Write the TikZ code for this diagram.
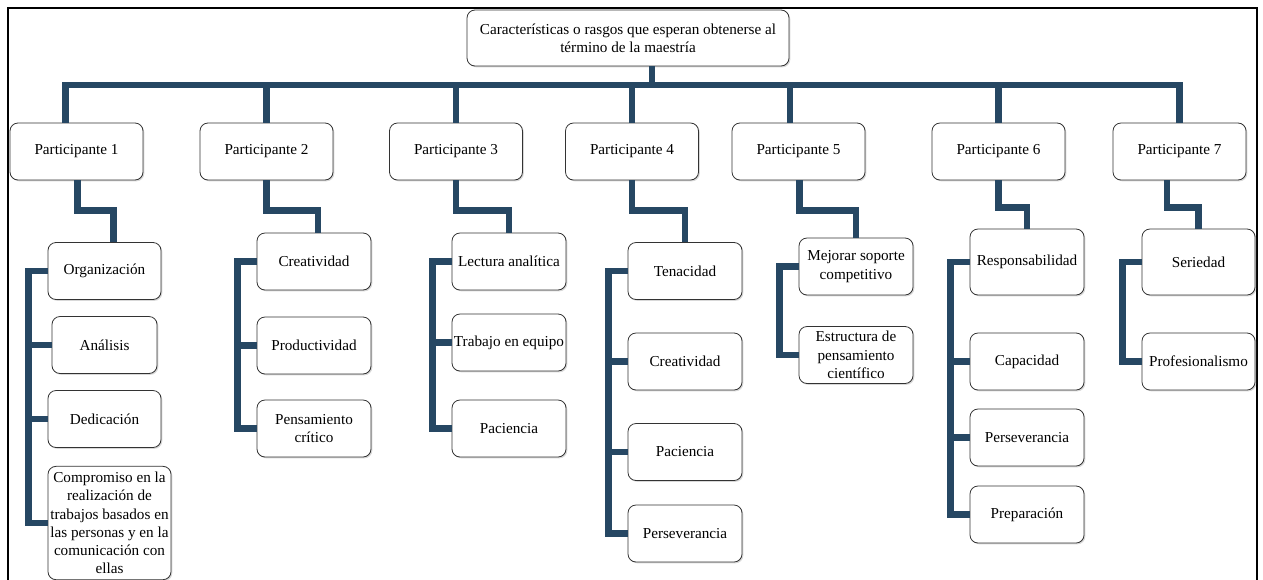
\documentclass[tikz,border=0pt]{standalone}
\usepackage{fontspec}
\setmainfont{Liberation Serif}
\usetikzlibrary{shadows}
\definecolor{barblue}{HTML}{264763}
\tikzset{
  card/.style={draw=black!80, line width=0.6pt, rounded corners=6pt, fill=white,
    align=center, inner sep=1pt, minimum width=85.5pt, minimum height=42.75pt,
    font=\fontsize{11.4}{13.7}\selectfont,
    drop shadow={shadow xshift=1pt, shadow yshift=-1pt, opacity=0.3}},
  part/.style={card, minimum width=99.75pt},
  bar/.style={draw=barblue, line width=5.2pt},
}
\begin{document}
\begin{tikzpicture}[x=0.75pt, y=-0.75pt]
  \useasboundingbox (0,0) rectangle (1263,579);
  \clip (0,0) rectangle (1263,579);
  \fill[white] (0,0) rectangle (1263,579);
  \draw[line width=1.6pt] (8,600) -- (8,8) -- (1257,8) -- (1257,600);

  % top
  \node[card, minimum width=241.5pt, minimum height=42pt] (root) at (628,38)
    {Características o rasgos que esperan obtenerse al\\término de la maestría};
  \foreach \n/\x in {1/76.5, 2/266.5, 3/456, 4/632, 5/798.5, 6/998.5, 7/1179.5}
    \node[part] (p\n) at (\x,151.5) {Participante \n};

  % participante 1
  \node[card, minimum width=84.75pt] (p1a) at (104.5,271) {Organización};
  \node[card, minimum width=78.75pt] (p1b) at (104.5,345) {Análisis};
  \node[card, minimum width=84.75pt] (p1c) at (104.5,419) {Dedicación};
  \node[card, minimum width=92.25pt, minimum height=85pt] (p1d) at (109.5,523)
    {Compromiso en la\\realización de\\trabajos basados en\\las personas y en la\\comunicación con\\ellas};
  % participante 2
  \node[card] (p2a) at (314,261.5) {Creatividad};
  \node[card] (p2b) at (314,345.5) {Productividad};
  \node[card] (p2c) at (314,428.5) {Pensamiento\\crítico};
  % participante 3
  \node[card] (p3a) at (509,261.5) {Lectura analítica};
  \node[card] (p3b) at (509,342.5) {Trabajo en equipo};
  \node[card] (p3c) at (509,428.5) {Paciencia};
  % participante 4
  \node[card] (p4a) at (685,271) {Tenacidad};
  \node[card] (p4b) at (685,361.5) {Creatividad};
  \node[card] (p4c) at (685,452) {Paciencia};
  \node[card] (p4d) at (685,533.5) {Perseverancia};
  % participante 5
  \node[card] (p5a) at (856,266.5) {Mejorar soporte\\competitivo};
  \node[card] (p5b) at (856,355) {Estructura de\\pensamiento\\científico};
  % participante 6
  \node[card, minimum height=49.5pt] (p6a) at (1027,262) {Responsabilidad};
  \node[card] (p6b) at (1027,361.5) {Capacidad};
  \node[card] (p6c) at (1027,437.5) {Perseverancia};
  \node[card] (p6d) at (1027,514.5) {Preparación};
  % participante 7
  \node[card, minimum height=49.5pt, minimum width=84.75pt] (p7a) at (1198.5,262) {Seriedad};
  \node[card, minimum width=84.75pt] (p7b) at (1198.5,361.5) {Profesionalismo};

  % bus
  \coordinate (hub) at (652,85);
  \draw[bar] (root.south -| hub) -- (hub);
  \foreach \p/\s in {p1/-8.6pt, p2/0pt, p3/0pt, p4/0pt, p5/-6.4pt, p6/0pt, p7/0pt}
    \draw[bar] (hub) -| ([xshift=\s]\p.north);

  % elbows
  \draw[bar] ([xshift=1pt]p1.south) -- ++(0,30) -| ([xshift=6.4pt]p1a.north);
  \draw[bar] (p2.south) -- ++(0,30) -| ([xshift=3pt]p2a.north);
  \draw[bar] (p3.south) -- ++(0,30) -| (p3a.north);
  \draw[bar] (p4.south) -- ++(0,30) -| (p4a.north);
  \draw[bar] ([xshift=1pt]p5.south) -- ++(0,30) -| (p5a.north);
  \draw[bar] (p6.south) -- ++(0,27) -| (p6a.north);
  \draw[bar] ([xshift=-9.4pt]p7.south) -- ++(0,27) -| (p7a.north);

  % brackets
  \draw[bar] (p1a.west) -- ++(-19,0) coordinate (l1) |- (p1d.west);
  \draw[bar] (p2a.west) -- ++(-19,0) coordinate (l2) |- (p2c.west);
  \draw[bar] (p3a.west) -- ++(-19,0) coordinate (l3) |- (p3c.west);
  \draw[bar] (p4a.west) -- ++(-19,0) coordinate (l4) |- (p4d.west);
  \draw[bar] (p5a.west) -- ++(-19,0) coordinate (l5) |- (p5b.west);
  \draw[bar] (p6a.west) -- ++(-19,0) coordinate (l6) |- (p6d.west);
  \draw[bar] (p7a.west) -- ++(-19,0) coordinate (l7) |- (p7b.west);
  \foreach \l/\c in {l1/p1b, l1/p1c, l2/p2b, l3/p3b, l4/p4b, l4/p4c, l6/p6b, l6/p6c}
    \draw[bar] (\l |- \c.west) -- (\c.west);
\end{tikzpicture}
\end{document}
